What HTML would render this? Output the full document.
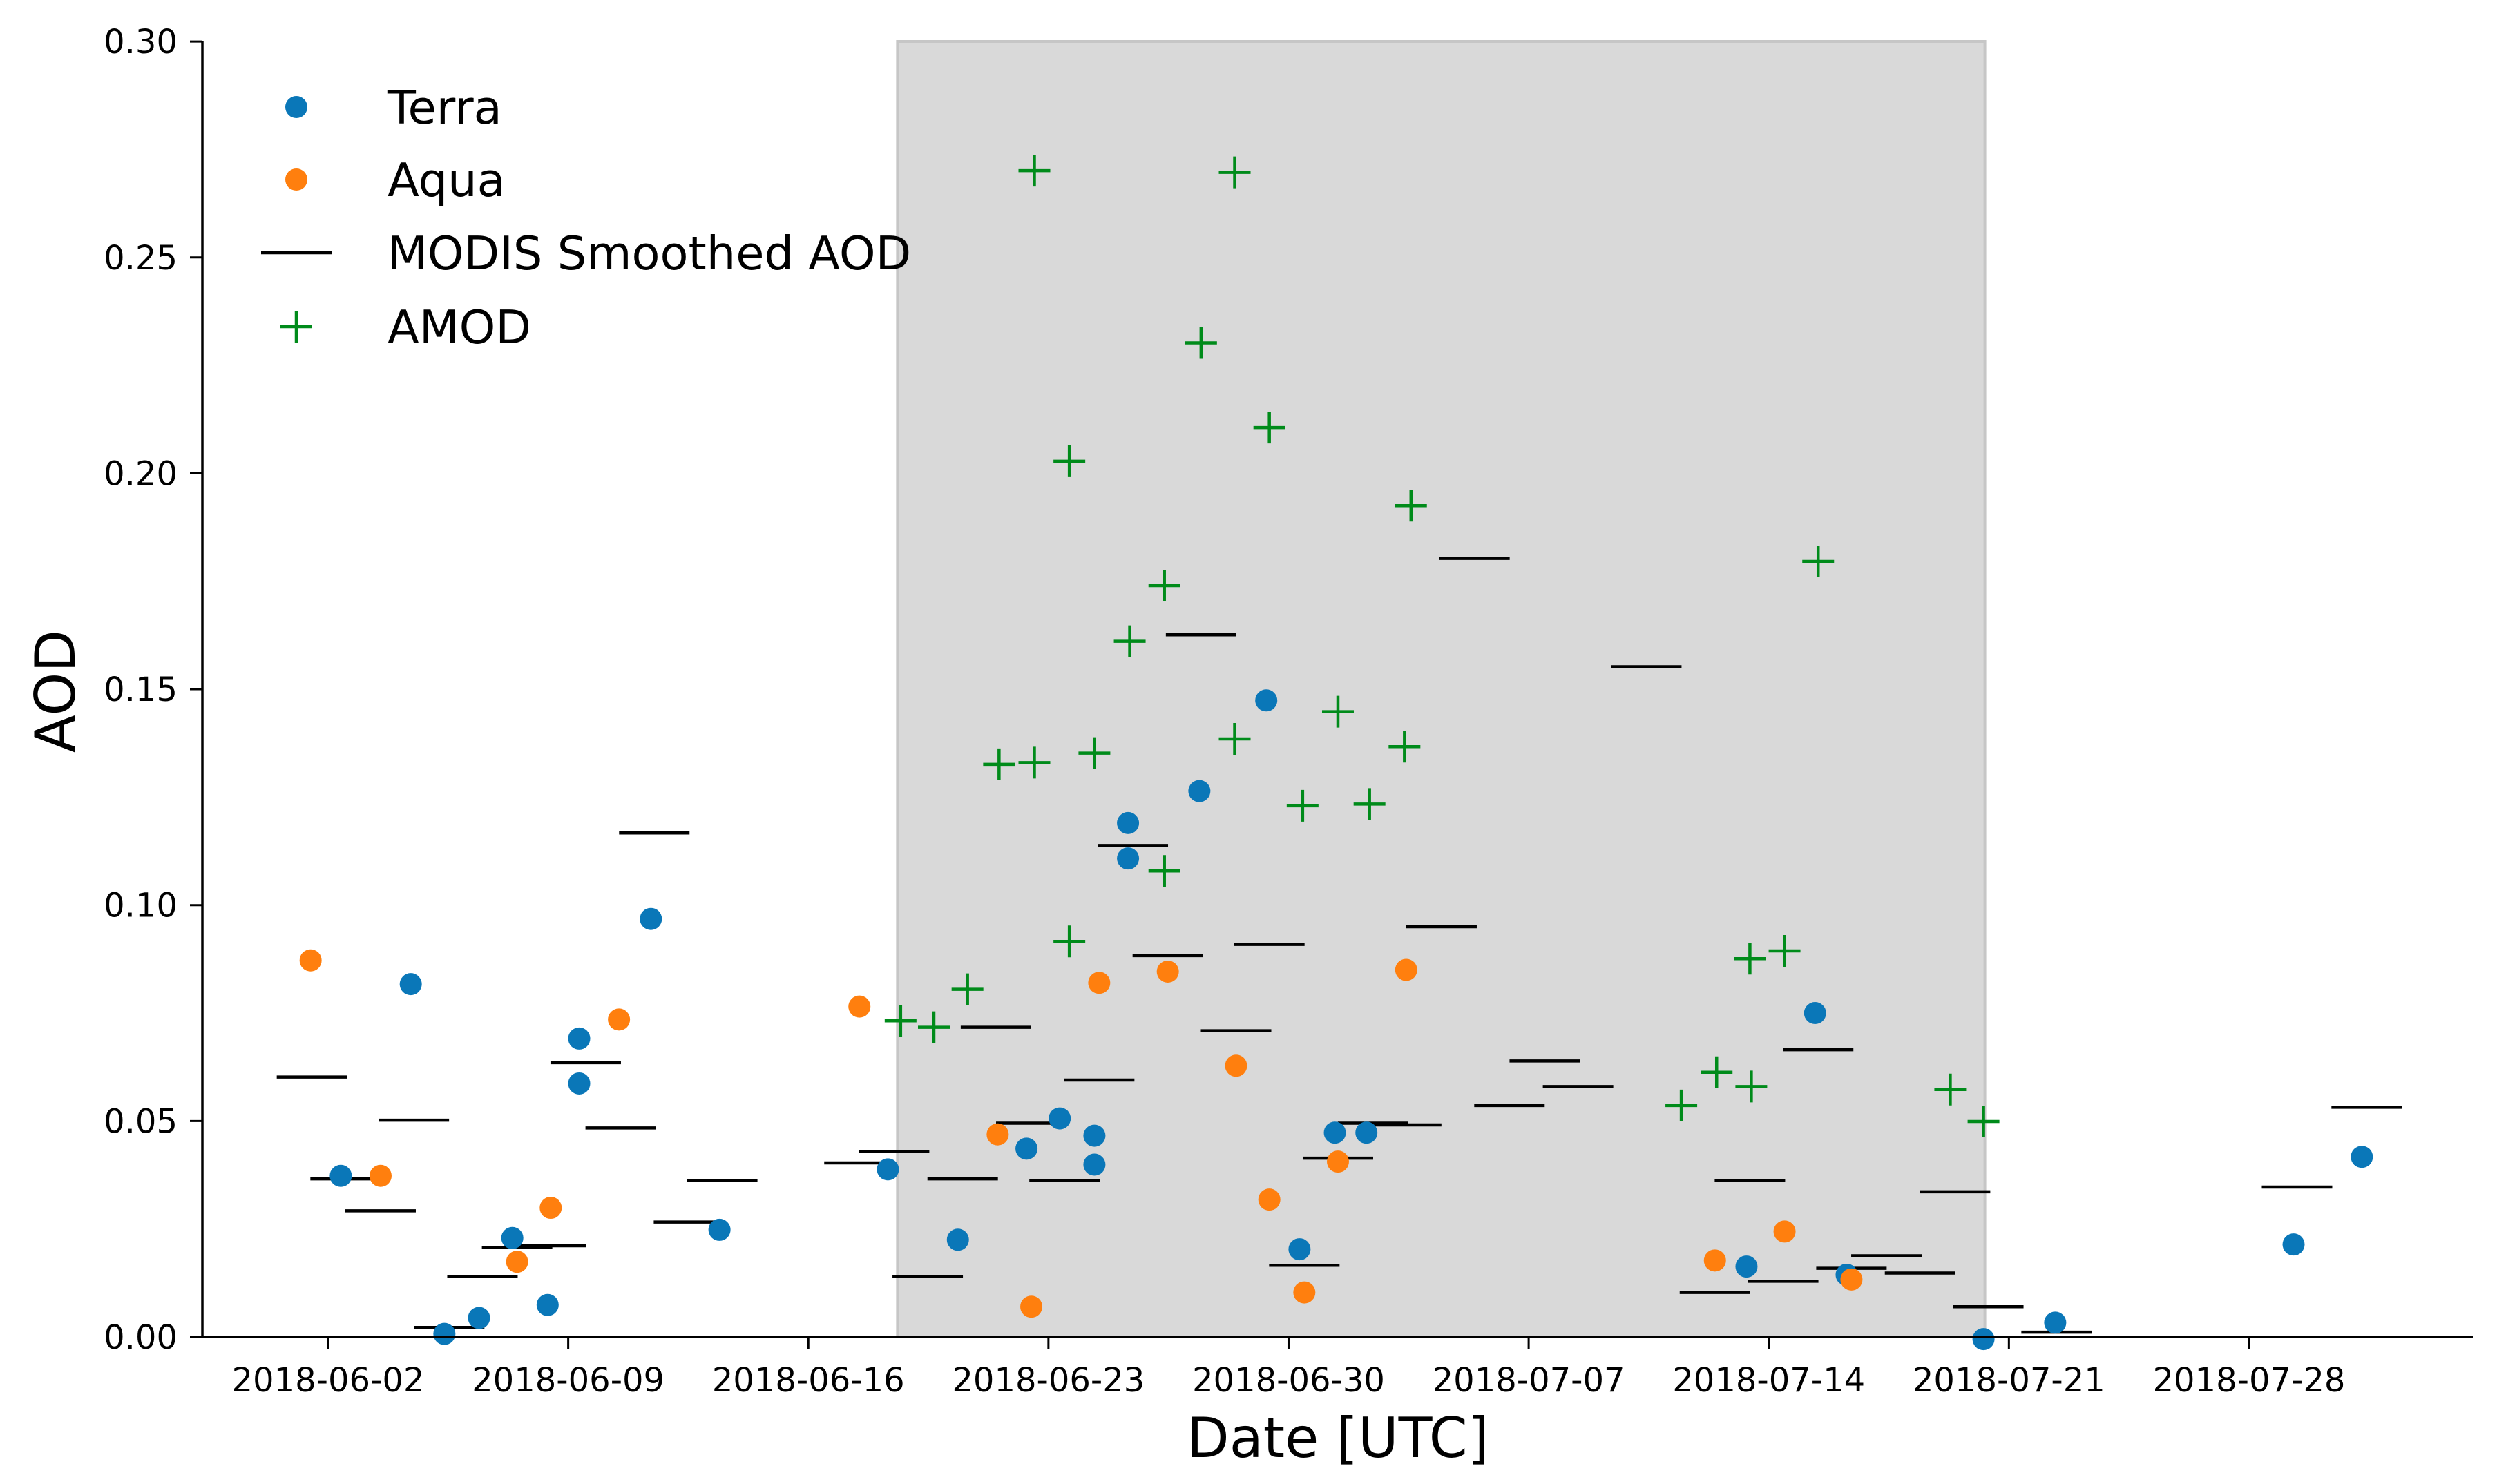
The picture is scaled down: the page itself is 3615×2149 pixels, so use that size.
<!DOCTYPE html>
<html><head><meta charset="utf-8"><style>
html,body{margin:0;padding:0;background:#fff}
svg{display:block}
text{font-family:"DejaVu Sans","Liberation Sans",sans-serif;fill:#000}
</style></head><body>
<svg id="chart" width="3615" height="2149" viewBox="0 0 3615 2149" xmlns="http://www.w3.org/2000/svg">
<g id="shade"></g>
<g id="marks"></g>
<g id="axes"></g>
<g id="legend"></g>
</svg>
<script>
// days since 2018-06-02
const xTickLabels = ["2018-06-02","2018-06-09","2018-06-16","2018-06-23","2018-06-30","2018-07-07","2018-07-14","2018-07-21","2018-07-28"];
const xTickDays = [0,7,14,21,28,35,42,49,56];
const yTickValues = [0,0.05,0.10,0.15,0.20,0.25,0.30];
const yTickLabels = ["0.00","0.05","0.10","0.15","0.20","0.25","0.30"];
const shadeDays = [16.6, 48.3];

const terraDays = [0.37,2.41,3.39,4.40,5.37,6.40,7.32,7.32,9.41,11.41,16.32,18.36,20.36,21.33,22.34,22.34,23.32,23.32,25.40,27.35,28.32,29.35,30.27,41.35,43.35,44.27,48.26,50.35,57.30,59.29];
const terraVals = [0.0373,0.0817,0.0007,0.0044,0.0229,0.0074,0.0691,0.0587,0.0968,0.0248,0.0388,0.0225,0.0436,0.0506,0.0466,0.0399,0.119,0.1108,0.1264,0.1474,0.0203,0.0473,0.0473,0.0163,0.075,0.0144,-0.0005,0.0033,0.0214,0.0417];

const aquaDays = [-0.51,1.53,5.51,6.49,8.48,15.49,19.52,20.50,22.48,24.48,26.47,27.44,28.46,29.44,31.43,40.43,42.46,44.41];
const aquaVals = [0.0872,0.0373,0.0174,0.0299,0.0735,0.0765,0.0469,0.007,0.082,0.0846,0.0628,0.0318,0.0103,0.0406,0.085,0.0177,0.0244,0.0133];

const smoothDays = [-0.47,0.51,1.53,2.50,3.53,4.50,5.51,6.49,7.51,8.53,9.51,10.52,11.49,15.49,16.50,17.48,18.50,19.47,20.50,21.47,22.48,23.46,24.48,25.45,26.47,27.44,28.46,29.44,30.46,31.43,32.46,33.42,34.44,35.47,36.44,38.43,40.43,41.45,42.42,43.44,44.41,45.43,46.41,47.43,48.40,50.39,57.40,59.43];
const smoothVals = [0.0602,0.0366,0.0292,0.0502,0.0022,0.014,0.0207,0.0211,0.0635,0.0484,0.1167,0.0266,0.0362,0.0403,0.0429,0.014,0.0366,0.0717,0.0495,0.0362,0.0595,0.1138,0.0883,0.1626,0.0709,0.0909,0.0166,0.0414,0.0495,0.0491,0.095,0.1803,0.0536,0.0639,0.058,0.1552,0.0103,0.0362,0.0129,0.0665,0.0159,0.0188,0.0148,0.0336,0.007,0.0011,0.0347,0.0532];

const amodDays = [16.69,17.66,18.64,19.56,20.59,20.59,21.61,21.61,22.34,23.37,24.38,24.38,25.45,26.43,26.43,27.44,28.41,29.44,30.36,31.38,31.57,39.45,40.48,41.45,41.49,42.46,43.44,47.29,48.26];
const amodVals = [0.0732,0.0717,0.0805,0.1326,0.2701,0.133,0.2028,0.0916,0.1352,0.1611,0.174,0.1079,0.2302,0.2697,0.1385,0.2106,0.123,0.1448,0.1234,0.1367,0.1925,0.0536,0.0613,0.0876,0.058,0.0894,0.1796,0.0573,0.0499];

const NS="http://www.w3.org/2000/svg";
const X0=475, PXD=49.66, Y0=1936, PXV=6253, AXL=293, AXR=3580, AXT=60;
const xs=d=>X0+PXD*d, ys=v=>Y0-PXV*v;
function mk(tag,attrs,parent,txt){const e=document.createElementNS(NS,tag);for(const k in attrs)e.setAttribute(k,attrs[k]);if(txt!==undefined)e.textContent=txt;parent.appendChild(e);return e;}
const shade=document.getElementById('shade'),marks=document.getElementById('marks'),axes=document.getElementById('axes'),legend=document.getElementById('legend');

let r=mk('rect',{x:xs(shadeDays[0]),y:AXT,width:xs(shadeDays[1])-xs(shadeDays[0]),height:Y0-AXT,fill:'#d9d9d9',stroke:'#c6c6c6','stroke-width':4},shade);



smoothDays.forEach((d,i)=>{const l=mk('line',{x1:xs(d)-51,x2:xs(d)+51,y1:ys(smoothVals[i]),y2:ys(smoothVals[i]),stroke:'#000','stroke-width':4.5},marks);

});
terraDays.forEach((d,i)=>{const c=mk('circle',{cx:xs(d),cy:ys(terraVals[i]),r:16,fill:'#0a77b8'},marks);

});
aquaDays.forEach((d,i)=>{const c=mk('circle',{cx:xs(d),cy:ys(aquaVals[i]),r:16,fill:'#ff7f0e'},marks);

});
amodDays.forEach((d,i)=>{const x=xs(d),y=ys(amodVals[i]);const p=mk('path',{d:`M${x-23},${y}H${x+23}M${x},${y-23}V${y+23}`,stroke:'#008b1a','stroke-width':4.5,fill:'none'},marks);

});

let a=mk('path',{d:`M${AXL},${AXT}V${Y0}H${AXR}`,stroke:'#000','stroke-width':3.5,fill:'none'},axes);


yTickValues.forEach((v,i)=>{const y=ys(v);mk('line',{x1:AXL-18,x2:AXL,y1:y,y2:y,stroke:'#000','stroke-width':3},axes);
const t=mk('text',{x:257,y:y+17,'text-anchor':'end','font-size':48},axes,yTickLabels[i]);

});
xTickDays.forEach((d,i)=>{const x=xs(d);mk('line',{x1:x,x2:x,y1:Y0,y2:Y0+18,stroke:'#000','stroke-width':3},axes);
const t=mk('text',{x:x,y:2015,'text-anchor':'middle','font-size':48},axes,xTickLabels[i]);

});
let xt=mk('text',{x:1937,y:2110,'text-anchor':'middle','font-size':80},axes,'Date [UTC]');


let yt=mk('text',{x:0,y:0,'text-anchor':'middle','font-size':80,transform:'translate(108,1001) rotate(-90)'},axes,'AOD');



const legY=[155,260,366,473];
const legLabels=['Terra','Aqua','MODIS Smoothed AOD','AMOD'];
mk('circle',{cx:429,cy:legY[0],r:16,fill:'#0a77b8'},legend);
mk('circle',{cx:429,cy:legY[1],r:16,fill:'#ff7f0e'},legend);
mk('line',{x1:378,x2:480,y1:legY[2],y2:legY[2],stroke:'#000','stroke-width':4.5},legend);
mk('path',{d:`M406,${legY[3]}H452M429,${legY[3]-23}V${legY[3]+23}`,stroke:'#008b1a','stroke-width':4.5,fill:'none'},legend);
legLabels.forEach((s,i)=>{const t=mk('text',{x:561,y:legY[i]+24,'font-size':67},legend,s);

});
</script>
</body></html>
